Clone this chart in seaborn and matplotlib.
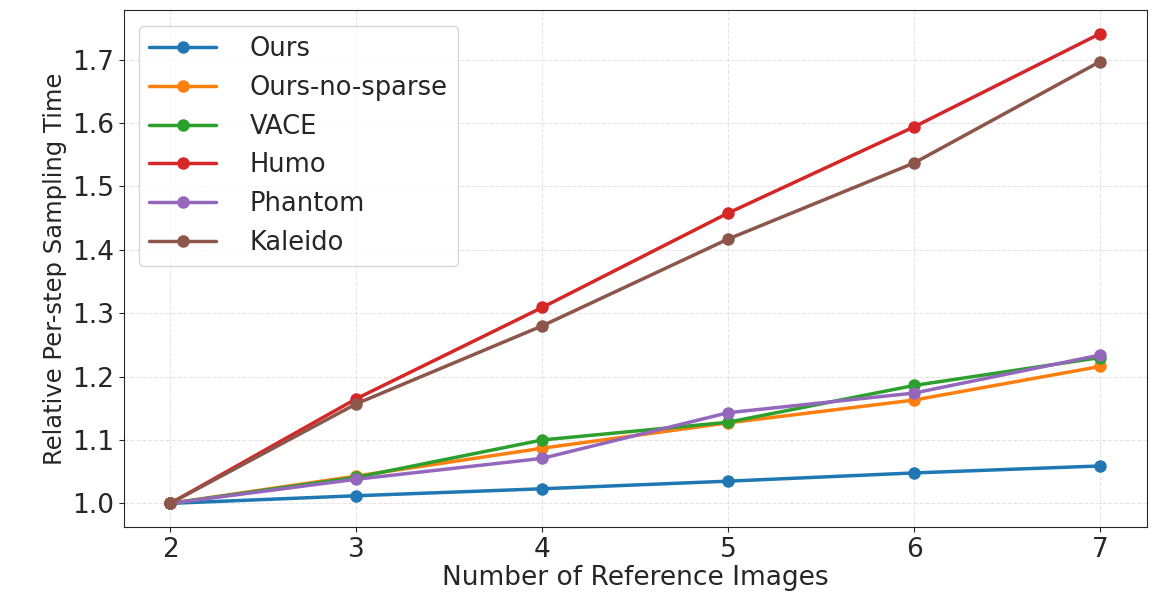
import numpy as np
import pandas as pd
import matplotlib
matplotlib.use('Agg')
import matplotlib.pyplot as plt
import seaborn as sns

# Данные
n_refs = [2, 3, 4, 5, 6, 7]
ours = [1.000, 1.012, 1.023, 1.035, 1.048, 1.059]
ours_no_sparse = [1.000, 1.043, 1.087, 1.127, 1.163, 1.216]
vace = [1.000, 1.041, 1.100, 1.128, 1.186, 1.230]
humo = [1.000, 1.165, 1.309, 1.458, 1.594, 1.741]
phantom = [1.000, 1.038, 1.071, 1.143, 1.174, 1.234]
kaleido = [1.000, 1.157, 1.280, 1.417, 1.537, 1.697]

methods = ['Ours', 'Ours-no-sparse', 'VACE', 'Humo', 'Phantom', 'Kaleido']
series = [ours, ours_no_sparse, vace, humo, phantom, kaleido]

df = pd.concat([pd.DataFrame({'n': n_refs, 'time': s, 'method': m})
                for m, s in zip(methods, series)], ignore_index=True)

sns.set_style('ticks')
plt.rcParams['font.family'] = ['DejaVu Sans']

fig, ax = plt.subplots(figsize=(11.57, 5.98), dpi=100)
sns.lineplot(data=df, x='n', y='time', hue='method', hue_order=methods,
             palette='tab10', marker='o', markersize=9, markeredgewidth=0,
             linewidth=2.5, ax=ax)

ax.grid(True, linestyle='--', alpha=0.5)
ax.set_xticks(n_refs)
ax.set_xlabel('Number of Reference Images', fontsize=19, labelpad=2)
ax.set_ylabel('Relative Per-step Sampling Time', fontsize=17.5)
ax.tick_params(labelsize=19)
ax.legend(title=None, fontsize=18.5, loc='upper left', handlelength=2.6,
          handletextpad=1.3, labelspacing=0.5, borderaxespad=0.6)

plt.subplots_adjust(left=0.107, right=0.991, top=0.983, bottom=0.119)
plt.savefig('out.png', dpi=100)
